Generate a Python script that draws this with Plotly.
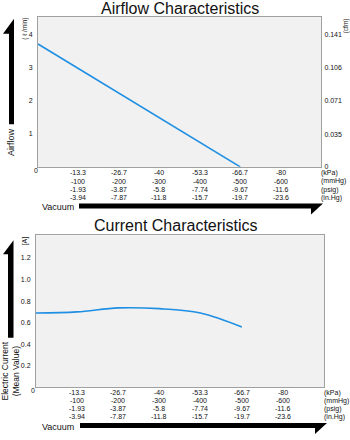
import plotly.graph_objects as go

W, H = 350, 440

# ---- data ----
vac_ticks = [-13.3, -26.7, -40, -53.3, -66.7, -80]
kpa = ["-13.3", "-26.7", "-40", "-53.3", "-66.7", "-80"]
mmhg = ["-100", "-200", "-300", "-400", "-500", "-600"]
psig = ["-1.93", "-3.87", "-5.8", "-7.74", "-9.67", "-11.6"]
inhg = ["-3.94", "-7.87", "-11.8", "-15.7", "-19.7", "-23.6"]
units = ["(kPa)", "(mmHg)", "(psig)", "(in.Hg)"]

airflow_vacuum = [0, -66.7]
airflow_lpm = [3.72, 0]

current_vacuum = [0, -13.3, -26.7, -40, -53.3, -66.7]
current_a = [0.69, 0.70, 0.737, 0.73, 0.69, 0.56]

airflow_yticks = [1, 2, 3, 4]
cfm_ticks = [0, 0.035, 0.071, 0.106, 0.141]
cfm_text = ["0", "0.035", "0.071", "0.106", "0.141"]
current_yticks = [0.2, 0.4, 0.6, 0.8, 1.0, 1.2]
current_ytext = ["0.2", "0.4", "0.6", "0.8", "1.0", "1.2"]
LPM_TO_CFM = 0.035315

FONT = "Liberation Sans, Arial, Helvetica, sans-serif"
LINE = "#1f8fe3"
FRAME = "#a0a0a0"
BG = "#f1f1f1"
TXT = "#111"

def px(x):
    return x / W

def py(y):
    return 1 - y / H

fig = go.Figure()
fig.add_trace(go.Scatter(x=airflow_vacuum, y=airflow_lpm, mode="lines",
                         line=dict(color=LINE, width=1.6), xaxis="x", yaxis="y",
                         showlegend=False, hoverinfo="skip"))
fig.add_trace(go.Scatter(x=airflow_vacuum, y=[v * LPM_TO_CFM for v in airflow_lpm],
                         mode="lines", line=dict(color="rgba(0,0,0,0)", width=0),
                         xaxis="x", yaxis="y3", showlegend=False, hoverinfo="skip"))
fig.add_trace(go.Scatter(x=current_vacuum, y=current_a, mode="lines",
                         line=dict(color=LINE, width=1.6, shape="spline", smoothing=1.0),
                         xaxis="x2", yaxis="y2", showlegend=False, hoverinfo="skip"))

top = (38, 321, 17, 168)
bot = (36, 324, 237, 390)

axis_common = dict(showline=True, mirror=True, linecolor=FRAME, linewidth=1,
                   showgrid=False, zeroline=False, ticks="",
                   tickfont=dict(size=7, family=FONT, color=TXT))

fig.update_layout(
    width=W, height=H, margin=dict(l=0, r=0, t=0, b=0),
    paper_bgcolor="white", plot_bgcolor=BG,
    font=dict(family=FONT, color=TXT),
    xaxis=dict(domain=[px(top[0]), px(top[1])], range=[0, -93.33], anchor="y",
               showticklabels=False, **axis_common),
    yaxis=dict(domain=[py(top[3]), py(top[2])], range=[0, 4.54], anchor="x",
               tickvals=airflow_yticks, ticklabelstandoff=3, **axis_common),
    yaxis3=dict(overlaying="y", side="right", anchor="x",
                range=[0, 4.54 * LPM_TO_CFM], tickvals=cfm_ticks, ticktext=cfm_text,
                ticklabelstandoff=1, **axis_common),
    xaxis2=dict(domain=[px(bot[0]), px(bot[1])], range=[0, -93.33], anchor="y2",
                showticklabels=False, **axis_common),
    yaxis2=dict(domain=[py(bot[3]), py(bot[2])], range=[0, 1.41], anchor="x2",
                tickvals=current_yticks, ticktext=current_ytext, ticklabelstandoff=3,
                **axis_common),
)

ann = []
def text(x, y, t, size=7, angle=0, xanchor="center", yanchor="middle", align="center",
         xref="paper"):
    ann.append(dict(x=px(x) if xref == "paper" else x, y=py(y), xref=xref, yref="paper",
                    text=t, showarrow=False, textangle=angle, xanchor=xanchor,
                    yanchor=yanchor, align=align,
                    font=dict(size=size, family=FONT, color=TXT)))

# multi-row vacuum tick labels (placed on the data scale of each x axis)
rows = [kpa, mmhg, psig, inhg]
top_rows_y = [174, 182.5, 191, 199]
bot_rows_y = [395.5, 403.5, 411.5, 419.5]
for row, y in zip(rows, top_rows_y):
    for v, t in zip(vac_ticks, row):
        text(v, y, t, xref="x")
for row, y in zip(rows, bot_rows_y):
    for v, t in zip(vac_ticks, row):
        text(v, y, t, xref="x2")
for u, y in zip(units, top_rows_y):
    text(319, y, u, xanchor="left")
for u, y in zip(units, bot_rows_y):
    text(322, y, u, xanchor="left")

text(180, 9, "Airflow Characteristics", size=16)
text(176, 227, "Current Characteristics", size=16)
text(36, 172, "0")
text(33, 393, "0")
text(25, 29, "( ℓ /min)", size=6.5, angle=-90)
text(345.5, 26, "(cfm)", size=6.5, angle=-90)
text(25, 243, "[A]", size=7, angle=-90)
text(11, 143, "Airflow", size=9, angle=-90)
text(10, 374, "Electric Current<br>(Mean Value)", size=8.5, angle=-90)
text(58, 208, "Vacuum", size=9)
text(58, 430, "Vacuum", size=9)

def path(pts):
    return "M " + " L ".join(f"{px(x)},{py(y)}" for x, y in pts) + " Z"

shapes = []
def poly(pts):
    shapes.append(dict(type="path", xref="paper", yref="paper", path=path(pts),
                       fillcolor="black", line=dict(width=0)))

# vertical arrows
poly([(9, 125), (14, 125), (14, 19), (3, 34), (9, 34)])
poly([(8, 340), (13.5, 340), (13.5, 242), (3, 256), (8, 256)])
# horizontal arrows
poly([(79, 205), (323, 205), (311, 216), (311, 210), (79, 210)])
poly([(80, 426), (327, 426), (315, 437), (315, 431), (80, 431)])

fig.update_layout(annotations=ann, shapes=shapes)
fig.write_html("out.html")
